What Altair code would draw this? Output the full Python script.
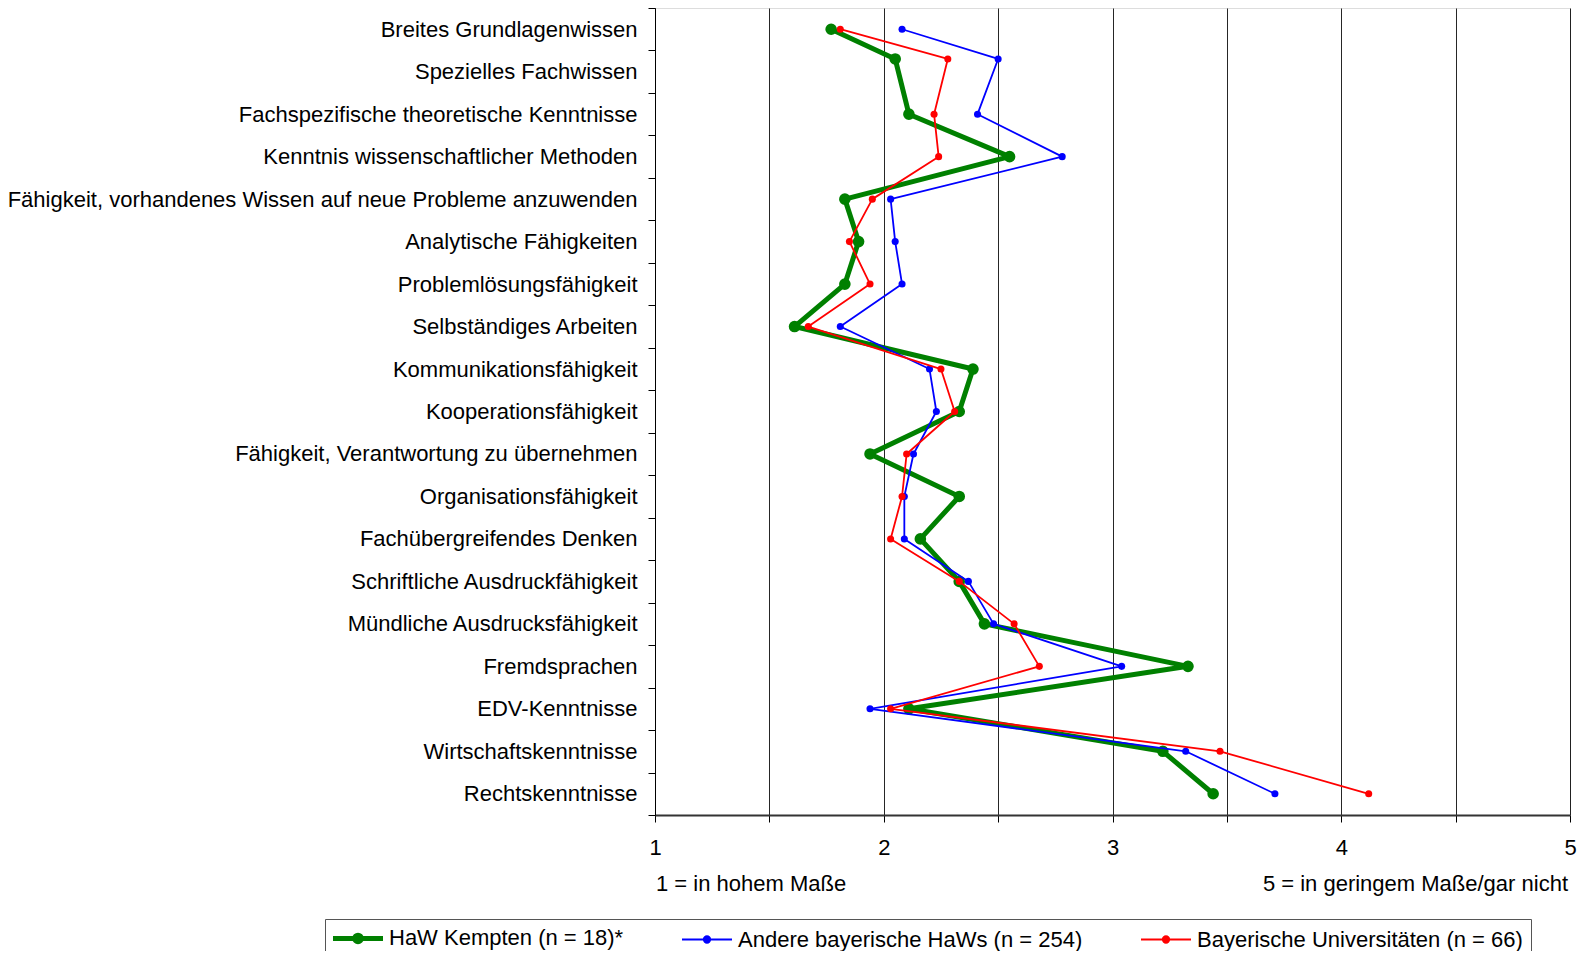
import json
import altair as alt
import pandas as pd

# ---------------- data ----------------
categories = [
    "Breites Grundlagenwissen",
    "Spezielles Fachwissen",
    "Fachspezifische theoretische Kenntnisse",
    "Kenntnis wissenschaftlicher Methoden",
    "Fähigkeit, vorhandenes Wissen auf neue Probleme anzuwenden",
    "Analytische Fähigkeiten",
    "Problemlösungsfähigkeit",
    "Selbständiges Arbeiten",
    "Kommunikationsfähigkeit",
    "Kooperationsfähigkeit",
    "Fähigkeit, Verantwortung zu übernehmen",
    "Organisationsfähigkeit",
    "Fachübergreifendes Denken",
    "Schriftliche Ausdruckfähigkeit",
    "Mündliche Ausdrucksfähigkeit",
    "Fremdsprachen",
    "EDV-Kenntnisse",
    "Wirtschaftskenntnisse",
    "Rechtskenntnisse",
]
# rank (y value) of each point in the original XY chart
ranks = [0, 0.7, 2, 3, 4, 5, 6, 7, 8, 9, 10, 11, 12, 13, 14, 15, 16, 17, 18]

kempten = [1.77, 2.05, 2.11, 2.55, 1.83, 1.89, 1.83, 1.61, 2.39, 2.33,
           1.94, 2.33, 2.16, 2.33, 2.44, 3.33, 2.11, 3.22, 3.44]
andere = [2.08, 2.50, 2.41, 2.78, 2.03, 2.05, 2.08, 1.81, 2.20, 2.23,
          2.13, 2.09, 2.09, 2.37, 2.48, 3.04, 1.94, 3.32, 3.71]
unis = [1.81, 2.28, 2.22, 2.24, 1.95, 1.85, 1.94, 1.67, 2.25, 2.31,
        2.10, 2.08, 2.03, 2.33, 2.57, 2.68, 2.03, 3.47, 4.12]

series_names = [
    "HaW Kempten (n = 18)*",
    "Andere bayerische HaWs (n = 254)",
    "Bayerische Universitäten (n = 66)",
]
series_values = [kempten, andere, unis]

scale_notes = ["1 = in hohem Maße", "5 = in geringem Maße/gar nicht"]
note_pos = [1, 5]

x_ticks = [1, 1.5, 2, 2.5, 3, 3.5, 4, 4.5, 5]

# ---------------- styles ----------------
series_colors = ["#008000", "#0000FF", "#FF0000"]
line_widths = [5, 1.8, 1.8]
point_sizes = [135, 50, 50]
FONT = "Liberation Sans"
FS = 22
W, H = 915, 807

rows = []
for name, vals in zip(series_names, series_values):
    for i, (r, v) in enumerate(zip(ranks, vals)):
        rows.append({"series": name, "rank": r, "value": v, "idx": i})
df = pd.DataFrame(rows)

y_tick_values = [-0.5 + 0.5 * k for k in range(2 * len(categories) + 1)]
ylabel_expr = ("datum.value % 1 != 0 ? '' : "
               + json.dumps(categories, ensure_ascii=False) + "[datum.value]")

x_scale = alt.Scale(domain=[1, 5], nice=False, zero=False)
y_scale = alt.Scale(domain=[-0.5, len(categories) - 0.5], reverse=True,
                    nice=False, zero=False)

x_axis = alt.Axis(
    values=x_ticks,
    labelExpr="datum.value % 1 == 0 ? '' + datum.value : ''",
    grid=True, gridColor="#000000", gridWidth=1, gridOpacity=0.85,
    tickSize=7, tickColor="#000000", tickWidth=1,
    domainColor="#333333", domainWidth=2,
    labelFont=FONT, labelFontSize=FS, labelColor="#000000",
    labelPadding=15, labelFlush=False, labelOverlap=False, title=None,
)
y_axis = alt.Axis(
    values=y_tick_values,
    labelExpr=ylabel_expr,
    grid=False,
    tickSize=7, tickColor="#000000", tickWidth=1,
    tickOpacity={"condition": {"test": "datum.value % 1 == 0", "value": 0}, "value": 1},
    domainColor="#000000", domainWidth=1,
    labelFont=FONT, labelFontSize=FS, labelColor="#000000",
    labelPadding=11, labelOverlap=False, labelBound=False, labelLimit=900,
    title=None,
)

legend_path = ("M-5,0L5,0"
               "M0.65,0A0.65,0.65,0,1,1,-0.65,0A0.65,0.65,0,1,1,0.65,0"
               "M0.4,0A0.4,0.4,0,1,1,-0.4,0A0.4,0.4,0,1,1,0.4,0"
               "M0.15,0A0.15,0.15,0,1,1,-0.15,0A0.15,0.15,0,1,1,0.15,0")

legend = alt.Legend(
    title=None, orient="none", legendX=-330, legendY=911,
    direction="horizontal", columns=3, columnPadding=54,
    symbolType=legend_path, symbolSize=100, symbolOffset=14,
    labelOffset=20, labelFont=FONT, labelFontSize=FS, labelColor="#000000",
    labelLimit=900, padding=8, strokeColor="#555555", fillColor="#FFFFFF",
)

color_scale = alt.Scale(domain=series_names, range=series_colors)
color_enc = alt.Color("series:N", scale=color_scale, legend=legend)
sw_enc = alt.StrokeWidth("series:N",
                         scale=alt.Scale(type="ordinal", domain=series_names, range=line_widths),
                         legend=legend)

base = alt.Chart(df)
layers = []
for k, name in enumerate(series_names):
    sub = base.transform_filter(alt.datum.series == name)
    line = sub.mark_line(strokeJoin="round").encode(
        x=alt.X("value:Q", scale=x_scale, axis=x_axis),
        y=alt.Y("rank:Q", scale=y_scale, axis=y_axis),
        color=color_enc,
        strokeWidth=sw_enc,
        order=alt.Order("idx:Q"),
    )
    pts = sub.mark_point(filled=True, opacity=1, size=point_sizes[k]).encode(
        x=alt.X("value:Q", scale=x_scale, axis=x_axis),
        y=alt.Y("rank:Q", scale=y_scale, axis=y_axis),
        color=alt.Color("series:N", scale=color_scale, legend=None),
    )
    layers += [line, pts]

notes_df = pd.DataFrame({"value": note_pos, "note": scale_notes})
note_left = alt.Chart(notes_df.iloc[[0]]).mark_text(
    align="left", baseline="middle", font=FONT, fontSize=FS, color="#000000", dx=1
).encode(x=alt.X("value:Q", scale=x_scale, axis=x_axis), y=alt.value(H + 68.5), text="note:N")
note_right = alt.Chart(notes_df.iloc[[1]]).mark_text(
    align="right", baseline="middle", font=FONT, fontSize=FS, color="#000000", dx=-2
).encode(x=alt.X("value:Q", scale=x_scale, axis=x_axis), y=alt.value(H + 68.5), text="note:N")

chart = alt.layer(*layers, note_left, note_right).properties(
    width=W, height=H,
    padding={"left": 647, "top": 0, "right": 7, "bottom": 136},
    autosize=alt.AutoSizeParams(type="none"),
).configure_view(stroke="#808080", strokeWidth=1).configure(font=FONT)

chart.save("out.html", embed_options={"renderer": "svg", "actions": False})
